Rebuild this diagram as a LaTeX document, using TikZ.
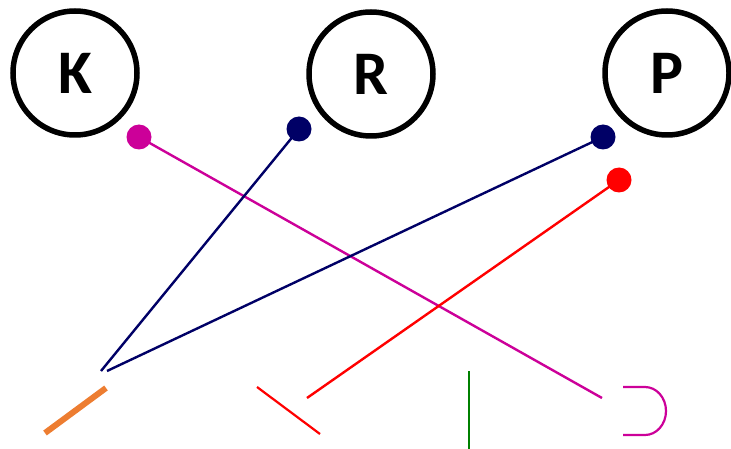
\documentclass[tikz,border=0pt]{standalone}
\usepackage{fontspec}
\setmainfont{Carlito}
\definecolor{navy}{RGB}{0,0,102}
\definecolor{mag}{RGB}{204,0,153}
\definecolor{orng}{RGB}{237,125,49}
\definecolor{grn}{RGB}{0,128,0}
\begin{document}
\begin{tikzpicture}[x=1pt,y=-1pt,
  big/.style={circle,draw=black,line width=5.5pt,minimum size=124pt,inner sep=0pt,font=\bfseries\fontsize{62}{62}\selectfont},
  dot/.style={circle,inner sep=0pt,minimum size=25pt},
  wire/.style={line width=2.4pt}]
\useasboundingbox (0,0) rectangle (731,449);
\node[big] (K) at (75,73) {K};
\node[big] (R) at (371,74) {R};
\node[big] (P) at (667,73) {P};
\node[dot,fill=mag] (d1) at (139,137) {};
\node[dot,fill=navy] (d2) at (299,129) {};
\node[dot,fill=navy] (d3) at (603,137) {};
\node[dot,fill=red] (d4) at (619,180) {};
\coordinate (e1) at (602,398);
\coordinate (e2) at (101,371);
\coordinate (e3) at (107,371);
\coordinate (e4) at (307,398);
\draw[wire,mag] (d1.center) -- (e1);
\draw[wire,navy] (d2.center) -- (e2);
\draw[wire,navy] (d3.center) -- (e3);
\draw[wire,red] (d4.center) -- (e4);
\coordinate (o1) at (45,433); \coordinate (o2) at (106,388);
\draw[orng,line width=6pt] (o1) -- (o2);
\coordinate (r1) at (257,387); \coordinate (r2) at (320,434);
\draw[red,line width=2.2pt] (r1) -- (r2);
\coordinate (g1) at (469,371); \coordinate (g2) at (469,449);
\draw[grn,line width=2.2pt] (g1) -- (g2);
\coordinate (m1) at (623,387);
\draw[mag,line width=2.2pt] (m1) -- (645,387) arc[start angle=90,end angle=-90,x radius=21pt,y radius=24pt] -- (623,435);
\end{tikzpicture}
\end{document}
